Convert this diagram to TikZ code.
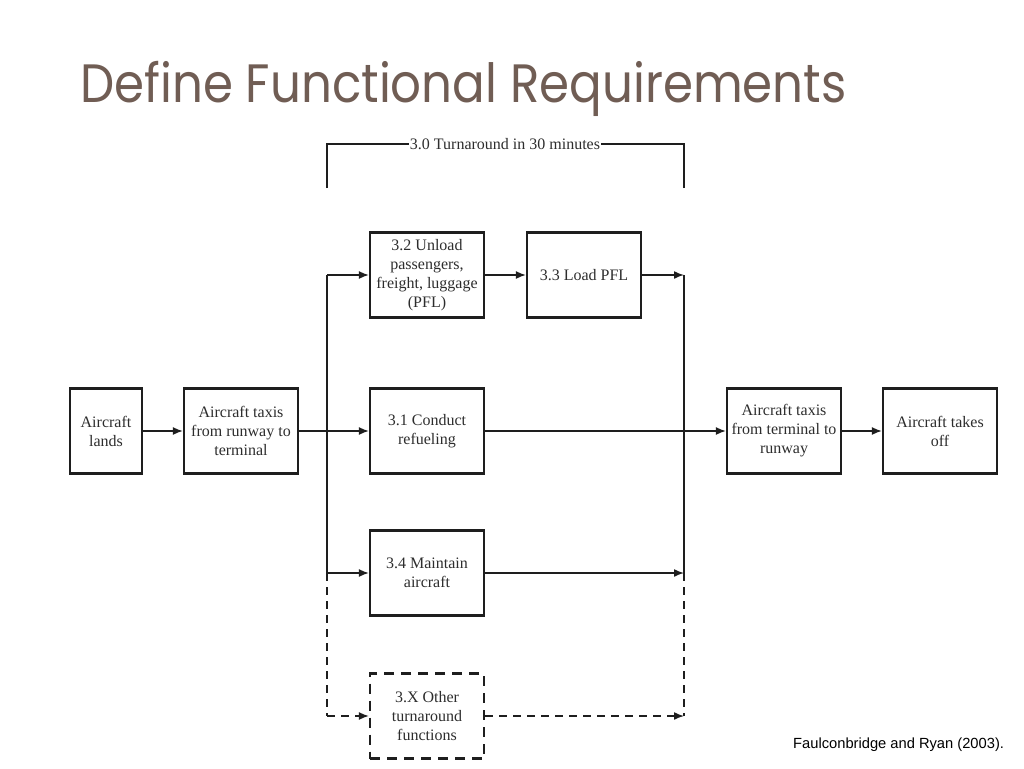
\documentclass[tikz,border=0pt]{standalone}
\usepackage{fontspec}
\setmainfont{Liberation Serif}
\newfontfamily\titlefont{Poppins}
\newfontfamily\citefont{Liberation Sans}
\usetikzlibrary{arrows.meta}
\definecolor{titlec}{RGB}{112,93,84}
\definecolor{linec}{RGB}{30,30,30}
\definecolor{txtc}{RGB}{45,45,45}
\tikzset{
  box/.style={draw=linec, line width=2.2pt, minimum width=114pt, minimum height=85pt, inner sep=0pt, align=center, text=txtc, font=\fontsize{16}{19}\selectfont},
  smallbox/.style={box, minimum width=72pt},
  dbox/.style={box, dashed, dash pattern=on 10pt off 7pt},
  conn/.style={draw=linec, line width=1.5pt},
  arr/.style={conn, -{Latex[length=10pt,width=8pt]}},
  darr/.style={arr, dash pattern=on 8pt off 6pt},
  dline/.style={conn, dash pattern=on 8pt off 6pt}
}
\begin{document}
\begin{tikzpicture}[x=1pt,y=-1pt]
\useasboundingbox (0,0) rectangle (1024,768);
\node[anchor=base west, text=titlec, inner sep=0pt] (title) at (80,102) {\scalebox{0.895}[1]{\titlefont\fontsize{54}{60}\selectfont Define Functional Requirements}};

\node[smallbox] (lands) at (106,431) {Aircraft\\lands};
\node[box] (taxi1) at (241,431) {Aircraft taxis\\from runway to\\terminal};
\node[box] (unload) at (427,275) {3.2 Unload\\passengers,\\freight, luggage\\(PFL)};
\node[box] (load) at (584,275) {3.3 Load PFL};
\node[box] (fuel) at (427,431) {3.1 Conduct\\refueling};
\node[box] (maint) at (427,573) {3.4 Maintain\\aircraft};
\node[dbox] (other) at (427,716) {3.X Other\\turnaround\\functions};
\node[box] (taxi2) at (784,431) {Aircraft taxis\\from terminal to\\runway};
\node[box] (takeoff) at (940,431) {Aircraft takes\\off};

% bracket
\coordinate (bl) at (327,188);
\coordinate (br) at (684,188);
\node[text=txtc, font=\fontsize{16}{18}\selectfont, inner sep=1pt] (brlabel) at (505,144) {3.0 Turnaround in 30 minutes};
\draw[conn] (bl) -- (bl |- brlabel) -- (brlabel.west);
\draw[conn] (br) -- (br |- brlabel) -- (brlabel.east);

% junction coordinates
\coordinate (jlt) at (327,275);
\coordinate (jlm) at (327,573);
\coordinate (jlb) at (327,716);
\coordinate (jrt) at (684,275);
\coordinate (jrm) at (684,573);
\coordinate (jrb) at (684,716);

\draw[conn] (jlt) -- (jlm);
\draw[dline] (jlm) -- (jlb);
\draw[conn] (jrt) -- (jrm);
\draw[dline] (jrm) -- (jrb);

\draw[arr] (lands) -- (taxi1);
\draw[arr] (taxi1) -- (fuel);
\draw[arr] (jlt) -- (unload.west);
\draw[arr] (jlm) -- (maint.west);
\draw[darr] (jlb) -- (other.west);
\draw[arr] (unload) -- (load);
\draw[arr] (load.east) -- (jrt);
\draw[arr] (fuel) -- (taxi2);
\draw[arr] (maint.east) -- (jrm);
\draw[darr] (other.east) -- (jrb);
\draw[arr] (taxi2) -- (takeoff);

\node[anchor=base west, inner sep=0pt, font=\citefont\fontsize{14.7}{16}\selectfont, text=black] (cite) at (793,748) {Faulconbridge and Ryan (2003).};
\end{tikzpicture}
\end{document}
